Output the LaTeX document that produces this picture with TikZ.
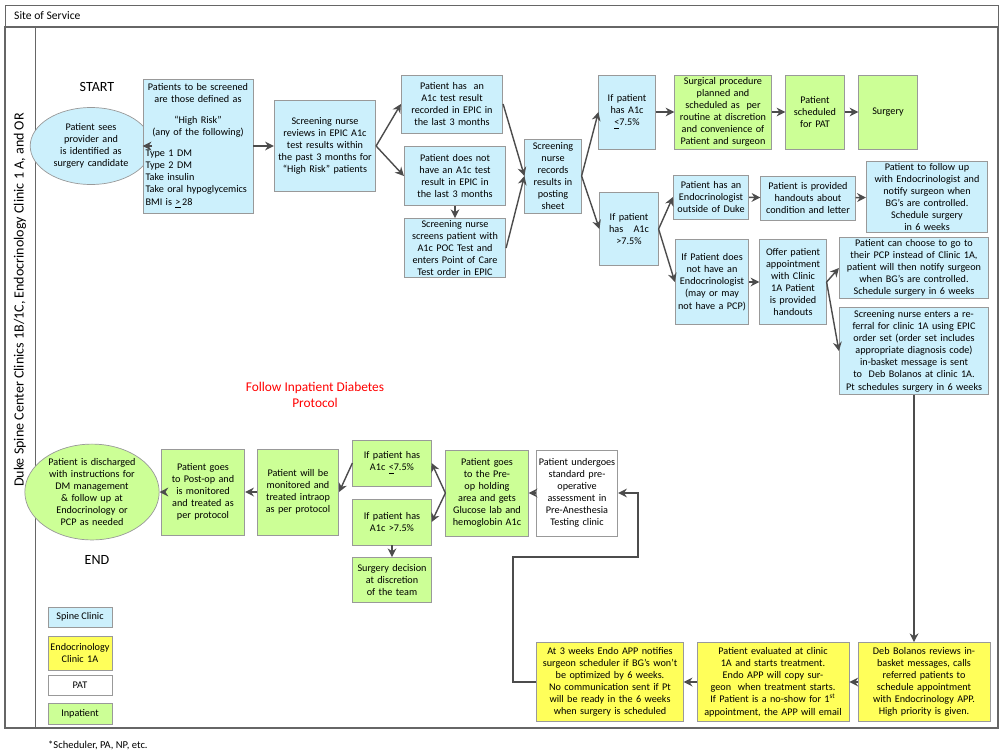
\documentclass[tikz,border=0pt]{standalone}
\usepackage{fontspec}
\setmainfont{Carlito}
\usetikzlibrary{arrows.meta,shapes.geometric}
\definecolor{spine}{RGB}{204,240,252}
\definecolor{inpat}{RGB}{204,255,150}
\definecolor{endo}{RGB}{255,255,90}
\newcommand\lft[1]{\makebox[2.1cm][l]{#1}}
\tikzset{
  box/.style={draw=black!40,align=center,inner sep=1pt,font=\fontsize{5.8}{6.9}\selectfont},
  sp/.style={box,fill=spine},
  ip/.style={box,fill=inpat},
  en/.style={box,fill=endo},
  pa/.style={box,fill=white},
  flow/.style={draw=black!70,thick,-{Stealth[length=5pt,width=5pt]}},
  lbl/.style={font=\fontsize{8}{9}\selectfont}
}
\begin{document}
\begin{tikzpicture}[x=0.02cm,y=-0.02cm]
  \useasboundingbox (0,0) rectangle (1000,755);
  % frame
  \draw[black!60] (5,5) rectangle (998,27);
  \draw[black!60,thick] (5,27) rectangle (998,728);
  \draw[black!60] (35,27) -- (35,728);
  \node[anchor=west,font=\fontsize{6.6}{7.6}\selectfont] (site) at (8,16) {Site of Service};
  \node[rotate=90,lbl] (lane) at (20,300) {Duke Spine Center Clinics 1B/1C, Endocrinology Clinic 1 A, and OR};
  % top row
  \node[lbl] (start) at (97,87) {START};
  \node[sp,ellipse,minimum width=1.96cm,minimum height=1.54cm,text width=1.72cm,inner sep=0pt] (sees) at (91,146) {Patient sees provider and is identified as surgery candidate};
  \node[sp,minimum width=2.2cm,minimum height=2.68cm,text width=2.1cm] (risk) at (198,146)
    {Patients to be screened are those defined as\\[5pt] ``High Risk''\\ (any of the following)\\[5pt]
     \lft{Type 1 DM}\\ \lft{Type 2 DM}\\ \lft{Take insulin}\\ \lft{Take oral hypoglycemics}\\ \lft{BMI is \underline{>}\,28}};
  \node[sp,minimum width=2.02cm,minimum height=1.82cm,text width=1.96cm] (review) at (325,146) {Screening nurse reviews in EPIC A1c test results within the past 3 months for ``High Risk'' patients};
  \node[sp,minimum width=2.02cm,minimum height=1.16cm,text width=1.96cm] (hasa) at (452,104) {Patient has \ an A1c test result recorded in EPIC in the last 3 months};
  \node[sp,minimum width=2.02cm,minimum height=1.18cm,text width=1.96cm] (noa) at (455,176) {Patient does not have an A1c test result in EPIC in the last 3 months};
  \node[sp,minimum width=2.02cm,minimum height=1.18cm,text width=1.96cm] (poc) at (455,248) {Screening nurse screens patient with A1c POC Test and enters Point of Care Test order in EPIC};
  \node[sp,minimum width=1.1cm,minimum height=1.48cm,text width=1.06cm] (rec) at (553,176) {Screening nurse records results in posting sheet};
  \node[sp,minimum width=1.1cm,minimum height=1.48cm,text width=1.06cm] (le) at (627,112) {If patient has A1c \underline{<}7.5\%};
  \node[ip,minimum width=1.9cm,minimum height=1.48cm,text width=1.86cm] (proc) at (723,112) {Surgical procedure planned and scheduled as \ per routine at discretion and convenience of Patient and surgeon};
  \node[ip,minimum width=1.14cm,minimum height=1.48cm,text width=1.1cm] (sched) at (815,112) {Patient scheduled for PAT};
  \node[ip,minimum width=1.14cm,minimum height=1.48cm,text width=1.1cm] (surg) at (888,112) {Surgery};
  \node[sp,minimum width=1.16cm,minimum height=1.46cm,text width=1.1cm] (gt) at (629,229) {If patient has \ \ A1c >7.5\%};
  \node[sp,minimum width=1.48cm,minimum height=0.88cm,text width=1.44cm] (hase) at (711,197) {Patient has an Endocrinologist outside of Duke};
  \node[sp,minimum width=1.86cm,minimum height=0.88cm,text width=1.82cm] (hand) at (808,198) {Patient is provided handouts about condition and letter};
  \node[sp,minimum width=2.42cm,minimum height=1.42cm,text width=2.36cm] (follow) at (927,197) {Patient to follow up with Endocrinologist and notify surgeon when BG's are controlled.\\ Schedule surgery in 6 weeks};
  \node[sp,minimum width=1.44cm,minimum height=1.7cm,text width=1.4cm] (noe) at (712,282) {If Patient does not have an Endocrinologist (may or may not have a PCP)};
  \node[sp,minimum width=1.3cm,minimum height=1.7cm,text width=1.26cm] (offer) at (793,282) {Offer patient appointment with Clinic 1A Patient is provided handouts};
  \node[sp,minimum width=2.96cm,minimum height=1.12cm,text width=2.92cm] (choose) at (914,268) {Patient can choose to go to their PCP instead of Clinic 1A, patient will then notify surgeon when BG's are controlled.\\ Schedule surgery in 6 weeks};
  \node[sp,minimum width=2.96cm,minimum height=1.74cm,text width=2.92cm] (refer) at (914,351) {Screening nurse enters a referral for clinic 1A using EPIC order set (order set includes appropriate diagnosis code) in-basket message is sent to \ Deb Bolanos at clinic 1A.\\ Pt schedules surgery in 6 weeks};
  % bottom row
  \node[en,minimum width=2.64cm,minimum height=1.58cm,text width=2.5cm] (deb) at (924,682) {Deb Bolanos reviews in-basket messages, calls referred patients to schedule appointment with Endocrinology APP. High priority is given.};
  \node[en,minimum width=3.04cm,minimum height=1.58cm,text width=2.96cm] (eval) at (773,682) {Patient evaluated at clinic 1A and starts treatment. Endo APP will copy surgeon \ when treatment starts.\\ If Patient is a no-show for 1\textsuperscript{st} appointment, the APP will email};
  \node[en,minimum width=2.92cm,minimum height=1.58cm,text width=2.86cm] (weeks) at (610,682) {At 3 weeks Endo APP notifies surgeon scheduler if BG's won't be optimized by 6 weeks. No communication sent if Pt will be ready in the 6 weeks when surgery is scheduled};
  \node[pa,minimum width=1.6cm,minimum height=1.72cm,text width=1.56cm] (pat) at (577,493) {Patient undergoes standard pre-operative assessment in Pre-Anesthesia Testing clinic};
  \node[ip,minimum width=1.62cm,minimum height=1.72cm,text width=1.58cm] (preop) at (487,493) {Patient goes to the Pre-op holding area and gets Glucose lab and hemoglobin A1c};
  \node[ip,minimum width=1.56cm,minimum height=0.92cm,text width=1.5cm] (ile) at (392,463) {If patient has A1c \underline{<}7.5\%};
  \node[ip,minimum width=1.56cm,minimum height=0.92cm,text width=1.5cm] (igt) at (392,522) {If patient has A1c >7.5\%};
  \node[ip,minimum width=1.56cm,minimum height=0.9cm,text width=1.5cm] (dec) at (392,580) {Surgery decision at discretion of the team};
  \node[ip,minimum width=1.6cm,minimum height=1.72cm,text width=1.56cm] (mon) at (298,492) {Patient will be monitored and treated intraop as per protocol};
  \node[ip,minimum width=1.64cm,minimum height=1.72cm,text width=1.6cm] (post) at (203,492) {Patient goes to Post-op and is monitored and treated as per protocol};
  \node[ip,ellipse,minimum width=2.26cm,minimum height=1.72cm,text width=1.9cm,inner sep=0pt] (disc) at (92,492) {Patient is discharged with instructions for DM management \& follow up at Endocrinology or PCP as needed};
  \node[lbl] (endt) at (97,560) {END};
  \node[align=center,text=red,font=\fontsize{7.6}{9}\selectfont] (proto) at (315,395) {Follow Inpatient Diabetes\\ Protocol};
  % legend
  \node[sp,minimum width=1.28cm,minimum height=0.4cm] (lsp) at (80,617) {Spine Clinic};
  \node[en,minimum width=1.28cm,minimum height=0.68cm,text width=1.2cm] (len) at (80,653) {Endocrinology Clinic 1A};
  \node[pa,minimum width=1.28cm,minimum height=0.4cm] (lpa) at (80,685) {PAT};
  \node[ip,minimum width=1.28cm,minimum height=0.42cm] (lip) at (80,714) {Inpatient};
  \node[anchor=west,font=\fontsize{6}{7}\selectfont] (note) at (42,745) {*Scheduler, PA, NP, etc.};
  % connectors
  \draw[flow] (sees) -- (risk);
  \draw[flow] (risk) -- (review);
  \draw[flow] (review.east) -- (hasa.west);
  \draw[flow] (review.east) -- (noa.west);
  \draw[flow] (noa) -- (poc);
  \draw[flow] (hasa.east) -- (rec.west);
  \draw[flow] (poc.east) -- (rec.west);
  \draw[flow] (rec.east) -- (le.west);
  \draw[flow] (rec.east) -- (gt.west);
  \draw[flow] (le) -- (proc);
  \draw[flow] (proc) -- (sched);
  \draw[flow] (sched) -- (surg);
  \draw[flow] (gt.east) -- (hase.west);
  \draw[flow] (gt.east) -- (noe.west);
  \draw[flow] (hase) -- (hand);
  \draw[flow] (hand) -- (follow);
  \draw[flow] (noe) -- (offer);
  \draw[flow] (offer.east) -- (choose.west);
  \draw[flow] (offer.east) -- (refer.west);
  \draw[flow] (refer.south) -- (deb.north -| refer.south);
  \draw[flow] (deb) -- (eval);
  \draw[flow] (eval) -- (weeks);
  \draw[flow] (weeks.west) -- (513,682) -- (513,557) -- (638,557) -- (638,493) -- (pat.east);
  \draw[flow] (pat) -- (preop);
  \draw[flow] (preop.west) -- (ile.east);
  \draw[flow] (preop.west) -- (igt.east);
  \draw[flow] (igt) -- (dec);
  \draw[flow] (ile.west) -- (mon.east);
  \draw[flow] (mon) -- (post);
  \draw[flow] (post) -- (disc);
\end{tikzpicture}
\end{document}
